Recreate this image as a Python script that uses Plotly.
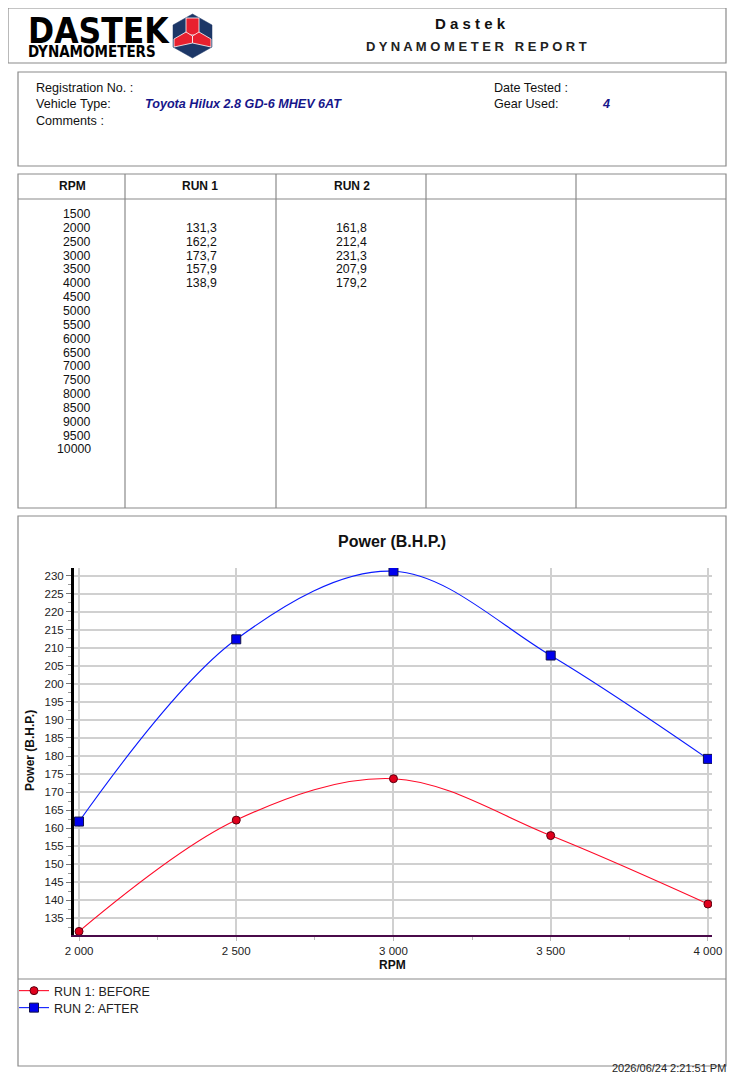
import plotly.graph_objects as go

# chart data
rpm = [2000, 2500, 3000, 3500, 4000]
run1 = [131.3, 162.2, 173.7, 157.9, 138.9]
run2 = [161.8, 212.4, 231.3, 207.9, 179.2]
series_names = ["RUN 1: BEFORE", "RUN 2: AFTER"]

# table data
table_rpm = [1500, 2000, 2500, 3000, 3500, 4000, 4500, 5000, 5500, 6000,
             6500, 7000, 7500, 8000, 8500, 9000, 9500, 10000]
table_headers = ["RPM", "RUN 1", "RUN 2"]

vehicle = "Toyota Hilux 2.8 GD-6 MHEV 6AT"
gear = "4"
stamp = "2026/06/24 2:21:51 PM"

# page body has an 8px margin, so the figure is a bit smaller than the window
OFF = 8
W, H = 742, 1072
FONT = "Arial, Liberation Sans, sans-serif"
NARROW = "Liberation Sans Narrow, DejaVu Sans Condensed, Arial Narrow, sans-serif"


def X(px):
    return (px - OFF) / W


def Y(py):
    return 1 - (py - OFF) / H


def fmt(v):
    return f"{v:.1f}".replace(".", ",")


shapes = []
annots = []


def box(x0, y0, x1, y1, color="#8a8a8a", width=1.2):
    shapes.append(dict(type="rect", xref="paper", yref="paper",
                       x0=X(x0), x1=X(x1), y0=Y(y1), y1=Y(y0),
                       line=dict(color=color, width=width), layer="below"))


def line(x0, y0, x1, y1, color="#8a8a8a", width=1.2):
    shapes.append(dict(type="line", xref="paper", yref="paper",
                       x0=X(x0), x1=X(x1), y0=Y(y0), y1=Y(y1),
                       line=dict(color=color, width=width), layer="below"))


def poly(pts, fill, edge="white", ew=0.8):
    p = "M " + " L ".join(f"{X(a)},{Y(b)}" for a, b in pts) + " Z"
    shapes.append(dict(type="path", xref="paper", yref="paper", path=p,
                       fillcolor=fill, line=dict(color=edge, width=ew)))


def text(x, y, s, size=12, color="#111", anchor="left", bold=False,
         italic=False, family=FONT, angle=0):
    if bold:
        s = "<b>" + s + "</b>"
    if italic:
        s = "<i>" + s + "</i>"
    annots.append(dict(xref="paper", yref="paper", x=X(x), y=Y(y), text=s,
                       showarrow=False, xanchor=anchor, yanchor="middle",
                       textangle=angle, align="left",
                       font=dict(size=size, color=color, family=family)))


def spaced(s):
    return "   ".join(" ".join(w) for w in s.split())


# header block
box(8, 8, 726, 63)
text(470, 23, spaced("Dastek"), size=15, bold=True, anchor="center")
text(476, 47, spaced("DYNAMOMETER REPORT"), size=13, bold=True,
     anchor="center", color="#222")

# logo: both words in one text block, line gap set by the base size
logo = ('<span style="font-size:35px">DASTEK</span><br>'
        '<span style="font-size:15px">DYNAMOMETERS</span>')
text(26, 36, logo, size=11, bold=True, family=NARROW, color="#000")
poly([(192.5, 14), (212, 25), (212, 47), (192.5, 58), (173, 47), (173, 25)],
     "#1d3767", edge="#1d3767", ew=0.5)
poly([(186, 18), (199, 18), (199, 35), (186, 35)], "#e8202f")
poly([(174, 39), (186, 32), (192.5, 36), (192.5, 43), (174, 47)], "#e8202f")
poly([(211, 39), (199, 32), (192.5, 36), (192.5, 43), (211, 47)], "#e8202f")

# info block
INFO = 12.6
box(18, 72, 726, 166)
text(34, 88, "Registration No. :", size=INFO)
text(34, 104, "Vehicle Type:", size=INFO)
text(34, 121, "Comments :", size=INFO)
text(143, 104, vehicle, size=INFO, color="#16168a", bold=True, italic=True)
text(492, 88, "Date Tested :", size=INFO)
text(492, 104, "Gear Used:", size=INFO)
text(600, 104, gear, size=INFO, color="#16168a", bold=True, italic=True)

# table block
box(18, 174, 726, 508)
line(18, 199, 726, 199)
for cx in [125, 276, 426, 576]:
    line(cx, 174, cx, 508)
for hx, h in zip([72, 200, 352], table_headers):
    text(hx, 186, h, bold=True, anchor="center")
step = 13.85
for i, r in enumerate(table_rpm):
    yy = 214 + i * step
    text(93, yy, str(r), size=12.3, anchor="right")
    if r in rpm:
        k = rpm.index(r)
        text(219, yy, fmt(run1[k]), size=12.3, anchor="right")
        text(369, yy, fmt(run2[k]), size=12.3, anchor="right")

# chart block
box(18, 516, 726, 1066)
line(18, 979, 726, 979)
text(392, 541, "Power (B.H.P.)", size=16, bold=True, anchor="center")
text(392, 965, "RPM", bold=True, anchor="center")
text(30, 751, "Power (B.H.P.)", bold=True, anchor="center", angle=-90)
text(728, 1068, stamp, size=11, anchor="right", color="#222")

fig = go.Figure()
fig.add_trace(go.Scatter(
    x=rpm, y=run1, name=series_names[0], mode="lines+markers",
    legend="legend", showlegend=True,
    line=dict(color="#ff0a28", width=1.1, shape="spline", smoothing=1),
    marker=dict(symbol="circle", size=8, color="#e0001c",
                line=dict(color="#5a0010", width=1))))
fig.add_trace(go.Scatter(
    x=rpm, y=run2, name=series_names[1], mode="lines+markers",
    legend="legend2", showlegend=True,
    line=dict(color="#0a1aff", width=1.1, shape="spline", smoothing=1),
    marker=dict(symbol="square", size=9, color="#0000ee",
                line=dict(color="#10104a", width=1))))

leg = dict(xanchor="left", yanchor="middle", font=dict(size=12.5, color="#222"),
           bgcolor="rgba(0,0,0,0)", itemwidth=30, visible=True)

fig.update_layout(
    template="none", showlegend=True,
    width=W, height=H, margin=dict(l=0, r=0, t=0, b=0, pad=0),
    paper_bgcolor="white", plot_bgcolor="white",
    font=dict(family=FONT, size=12, color="#111"),
    separators=". ",
    shapes=shapes, annotations=annots,
    legend=dict(leg, x=X(14), y=Y(991)),
    legend2=dict(leg, x=X(14), y=Y(1008)),
    xaxis=dict(domain=[X(74), X(712)], range=[1984, 4013], automargin=False,
               tickvals=rpm, separatethousands=True, tickformat=",d",
               showgrid=True, gridcolor="#d0d0d0", gridwidth=1.5,
               showline=True, linecolor="#4a0a4a", linewidth=2,
               ticks="outside", ticklen=4, tickcolor="#bbbbbb",
               minor=dict(tickvals=[2250, 2750, 3250, 3750], ticks="outside",
                          ticklen=3, tickcolor="#bbbbbb", showgrid=False),
               zeroline=False, tickfont=dict(size=11.5, color="#222"),
               fixedrange=True),
    yaxis=dict(domain=[Y(935), Y(568)], range=[130.3, 232.2], automargin=False,
               tick0=0, dtick=5, showgrid=True, gridcolor="#d0d0d0",
               gridwidth=1.5, showline=True, linecolor="#000", linewidth=3,
               ticks="outside", ticklen=5, tickcolor="#777",
               minor=dict(dtick=2.5, ticks="outside", ticklen=3,
                          tickcolor="#999", showgrid=False),
               zeroline=False, tickfont=dict(size=11.5, color="#222"),
               fixedrange=True),
)

fig.write_html("out.html")
